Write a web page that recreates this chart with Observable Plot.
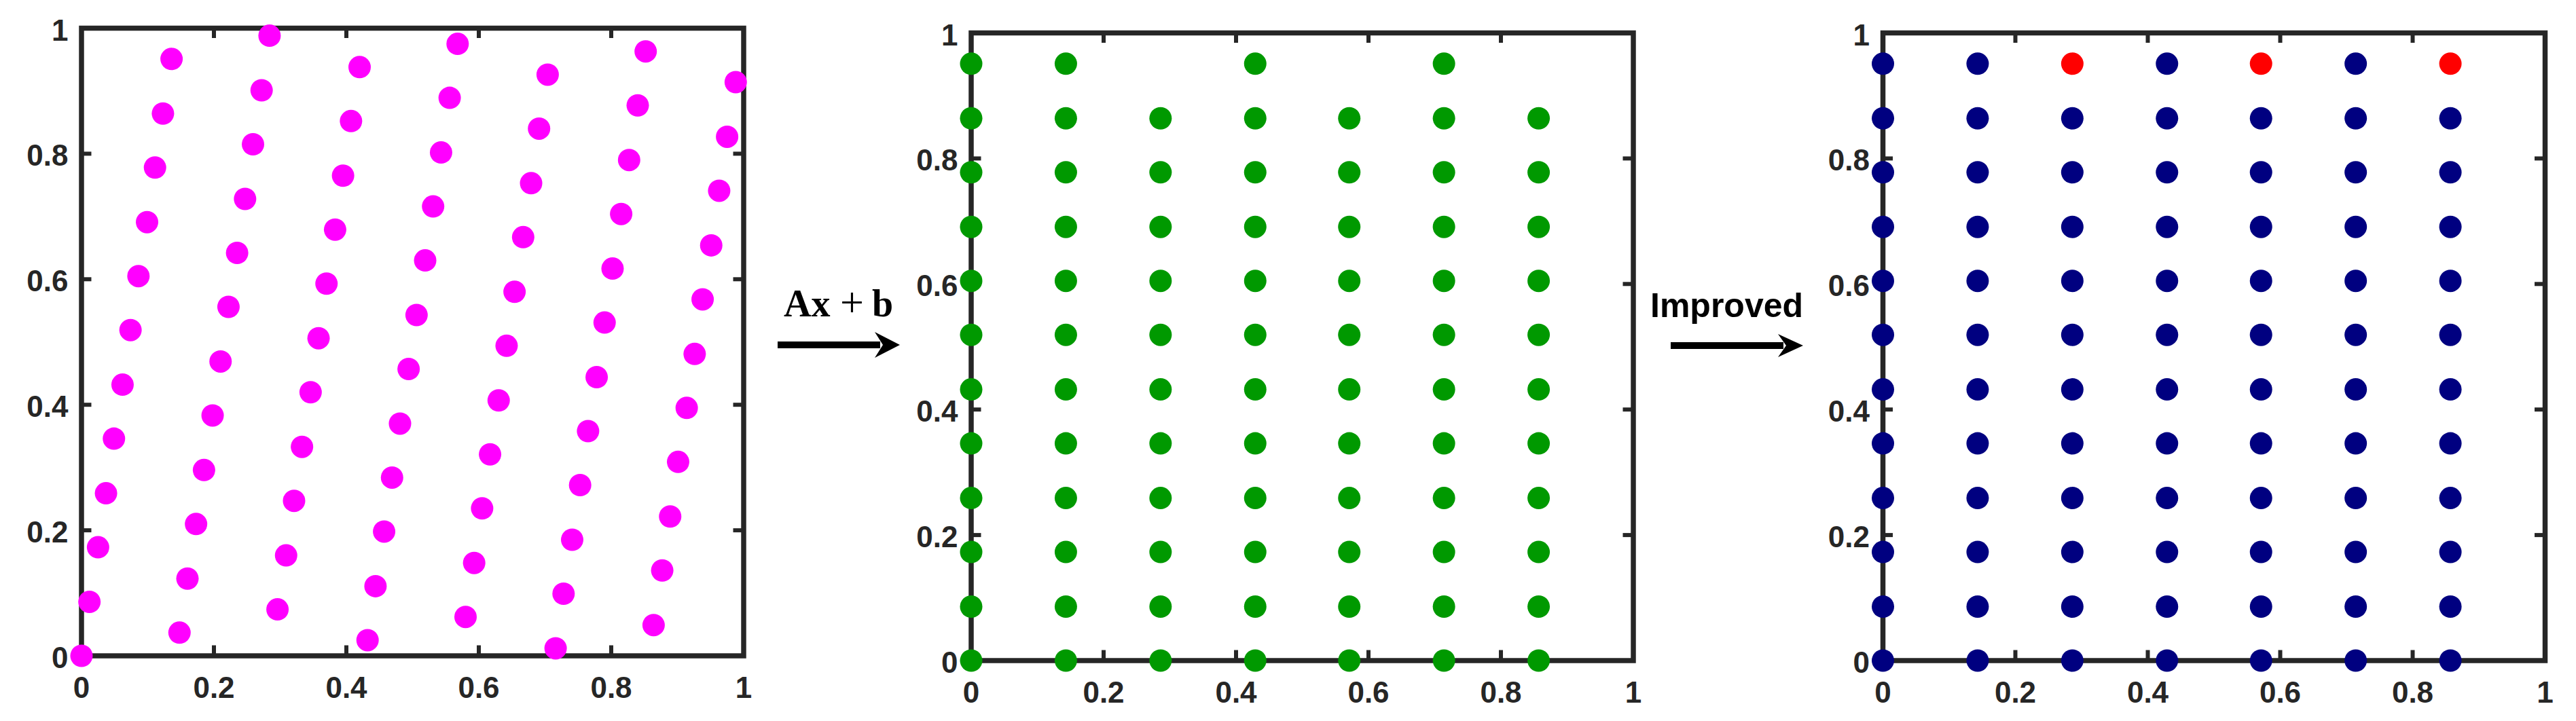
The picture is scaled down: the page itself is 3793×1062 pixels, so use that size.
<!DOCTYPE html>
<html>
<head>
<meta charset="utf-8">
<script src="https://cdn.jsdelivr.net/npm/d3@7"></script>
<script src="https://cdn.jsdelivr.net/npm/@observablehq/plot@0.6"></script>
<style>
  html, body { margin: 0; padding: 0; background: #fff; }
  #wrap { position: relative; width: 3793px; height: 1062px; overflow: hidden; background: #fff; }
  #wrap > svg, #wrap > div { position: absolute; top: 0; }
</style>
</head>
<body>
<div id="wrap"></div>
<script>
// ---------- data ----------
// Panel 1: scattered (lattice) points
const latticeX = [0.000,0.012,0.025,0.037,0.049,0.062,0.074,0.086,0.099,0.111,0.123,0.136,
  0.148,0.160,0.173,0.185,0.198,0.210,0.222,0.235,0.247,0.259,0.272,0.284,
  0.296,0.309,0.321,0.333,0.346,0.358,0.370,0.383,0.395,0.407,0.420,
  0.432,0.444,0.457,0.469,0.481,0.494,0.506,0.519,0.531,0.543,0.556,0.568,
  0.580,0.593,0.605,0.617,0.630,0.642,0.654,0.667,0.679,0.691,0.704,
  0.716,0.728,0.741,0.753,0.765,0.778,0.790,0.802,0.815,0.827,0.840,0.852,
  0.864,0.877,0.889,0.901,0.914,0.926,0.938,0.951,0.963,0.975,0.988];
const latticeY = [0.000,0.086,0.173,0.259,0.346,0.432,0.519,0.605,0.691,0.778,0.864,0.951,
  0.037,0.123,0.210,0.296,0.383,0.469,0.556,0.642,0.728,0.815,0.901,0.988,
  0.074,0.160,0.247,0.333,0.420,0.506,0.593,0.679,0.765,0.852,0.938,
  0.025,0.111,0.198,0.284,0.370,0.457,0.543,0.630,0.716,0.802,0.889,0.975,
  0.062,0.148,0.235,0.321,0.407,0.494,0.580,0.667,0.753,0.840,0.926,
  0.012,0.099,0.185,0.272,0.358,0.444,0.531,0.617,0.704,0.790,0.877,0.963,
  0.049,0.136,0.222,0.309,0.395,0.481,0.568,0.654,0.741,0.827,0.914];

// Panels 2 & 3: rectangular grid
const gridX = [0, 0.143, 0.286, 0.429, 0.571, 0.714, 0.857];
const gridY = [0, 0.086, 0.173, 0.259, 0.346, 0.432, 0.519, 0.605, 0.691, 0.778, 0.864, 0.951];
const topRowKeptX = [0, 0.143, 0.429, 0.714];     // top row present after Ax+b
const topRowAddedX = [0.286, 0.571, 0.857];       // points added by "Improved" (red)

const axisTicks = [0, 0.2, 0.4, 0.6, 0.8, 1];
const innerTicks = [0.2, 0.4, 0.6, 0.8];
const tickLabels = ["0", "0.2", "0.4", "0.6", "0.8", "1"];

// ---------- derived tables ----------
const latticePts = latticeX.map((x, i) => ({x, y: latticeY[i]}));
const topY = gridY[gridY.length - 1];
const lowerGrid = gridY.slice(0, -1).flatMap(y => gridX.map(x => ({x, y})));
const panel2Pts = lowerGrid.concat(topRowKeptX.map(x => ({x, y: topY})));
const panel3Blue = panel2Pts;
const panel3Red = topRowAddedX.map(x => ({x, y: topY}));

// ---------- layout ----------
const PW = 975, PH = 924.5, R = 16.5;
const FONT = "'Liberation Sans', Arial, Helvetica, sans-serif";
const wrap = document.getElementById("wrap");

function panel({left, x0, y0, w, dots}) {
  const ml = x0 - left;
  const svg = Plot.plot({
    width: w, height: 1062,
    marginLeft: ml, marginRight: w - ml - PW,
    marginTop: y0, marginBottom: 1062 - y0 - PH,
    x: {domain: [0, 1], label: null},
    y: {domain: [0, 1], label: null},
    style: {fontFamily: FONT, color: "#262626", background: "transparent", overflow: "visible"},
    marks: [
      Plot.frame({stroke: "#262626", strokeWidth: 7.5}),
      Plot.tickX(innerTicks, {x: d => d, insetTop: PH - 15, stroke: "#262626", strokeWidth: 6}),
      Plot.tickX(innerTicks, {x: d => d, insetBottom: PH - 15, stroke: "#262626", strokeWidth: 6}),
      Plot.tickY(innerTicks, {y: d => d, insetRight: PW - 15, stroke: "#262626", strokeWidth: 6}),
      Plot.tickY(innerTicks, {y: d => d, insetLeft: PW - 15, stroke: "#262626", strokeWidth: 6}),
      Plot.axisX({ticks: axisTicks, tickSize: 0, tickPadding: 31, fontSize: 44, fontWeight: "bold",
        fill: "#262626", tickFormat: d => tickLabels[axisTicks.indexOf(d)], label: null}),
      Plot.axisY({ticks: axisTicks, tickSize: 0, tickPadding: 19.5, fontSize: 44, fontWeight: "bold",
        fill: "#262626", dy: 4, tickFormat: d => tickLabels[axisTicks.indexOf(d)], label: null}),
      ...dots.map(([data, color]) => Plot.dot(data, {x: "x", y: "y", r: R, fill: color}))
    ]
  });
  svg.style.position = "absolute";
  svg.style.left = left + "px";
  svg.style.top = "0px";
  wrap.appendChild(svg);
}

panel({left: 0, x0: 119.5, y0: 41, w: 1200, dots: [[latticePts, "#ff00ff"]]});
panel({left: 1300, x0: 1429.5, y0: 48, w: 1200, dots: [[panel2Pts, "#009900"]]});
panel({left: 2650, x0: 2772, y0: 48, w: 1143, dots: [[panel3Blue, "#000080"], [panel3Red, "#ff0000"]]});

// ---------- annotations: arrows and labels ----------
const ov = d3.select(wrap).append("svg")
  .attr("width", 3793).attr("height", 1062)
  .style("position", "absolute").style("left", "0px").style("top", "0px")
  .style("pointer-events", "none");

function arrow(x1, x2, y, headBack, halfH) {
  ov.append("line").attr("x1", x1).attr("x2", x2 - headBack + 8).attr("y1", y).attr("y2", y)
    .attr("stroke", "#000").attr("stroke-width", 10);
  ov.append("path")
    .attr("d", `M${x2},${y} L${x2 - headBack},${y - halfH} L${x2 - headBack + 12},${y} L${x2 - headBack},${y + halfH} Z`)
    .attr("fill", "#000");
}
arrow(1145, 1325, 508, 37, 19);
arrow(2460, 2655, 509, 37, 17);

// "Ax + b" (bold A, x, b; regular plus), serif like LaTeX
const serif = "'Liberation Serif', 'Times New Roman', 'DejaVu Serif', serif";
ov.append("text").attr("x", 1154).attr("y", 466).attr("font-family", serif)
  .attr("font-weight", "bold").attr("font-size", 56).attr("fill", "#000").text("Ax");
ov.append("text").attr("x", 1254.5).attr("y", 466).attr("font-family", serif)
  .attr("text-anchor", "middle").attr("font-size", 62).attr("fill", "#000").text("+");
ov.append("text").attr("x", 1284).attr("y", 466).attr("font-family", serif)
  .attr("font-weight", "bold").attr("font-size", 56).attr("fill", "#000").text("b");

ov.append("text").attr("x", 2430).attr("y", 467).attr("font-family", FONT)
  .attr("font-weight", "bold").attr("font-size", 50).attr("fill", "#000").text("Improved");
</script>
</body>
</html>
